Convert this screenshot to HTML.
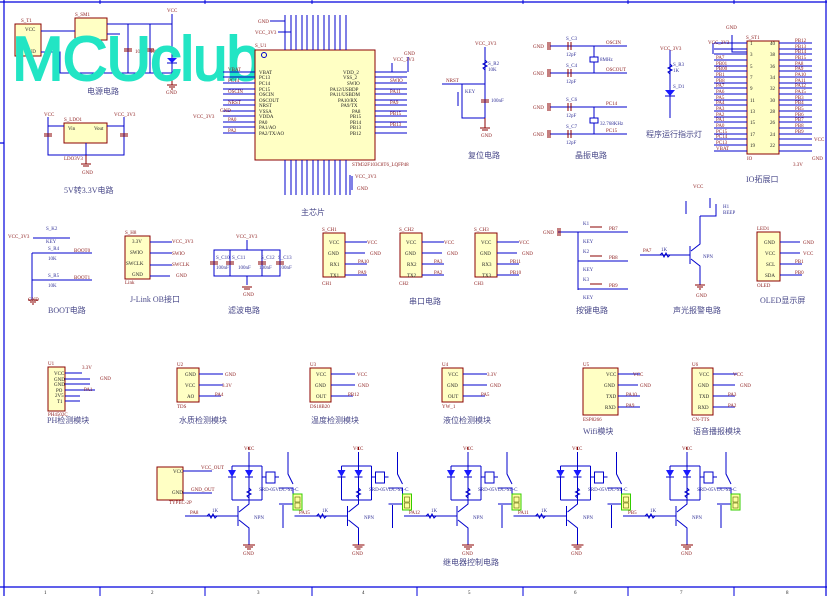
<!DOCTYPE html>
<html><head><meta charset="utf-8"><style>
html,body{margin:0;padding:0;background:#fff;width:827px;height:596px;overflow:hidden}
svg{display:block}
text{font-family:"Liberation Serif","Noto Serif CJK SC",serif}
.s{font-size:5px;fill:#222}
.r{font-size:5px;fill:#8b1a1a}
.b{font-size:5px;fill:#333399}
.t{font-size:8px;fill:#4a4a8a;font-family:"Liberation Serif","Noto Sans CJK SC",sans-serif}
.w{stroke:#0000cc;stroke-width:1;fill:none}
.k{stroke:#8b0000;stroke-width:1;fill:none}
.bx{fill:#ffffc4;stroke:#8b0000;stroke-width:1}
</style></head><body>
<svg width="827" height="596" viewBox="0 0 827 596" xmlns="http://www.w3.org/2000/svg">
<defs>
<g id="relay">
 <path class="w" d="M0 452V466M-17 466H13M-17 466V500M0 466V500M13 466V500M-17 500H13"/>
 <path d="M-21 470h8l-4 7z M-4 470h8l-4 7z" fill="#1a1aff"/>
 <path class="w" d="M-21 477h8M-4 477h8"/>
 <rect x="17" y="472" width="9" height="11" fill="#fff" stroke="#0000cc"/>
 <path class="w" d="M13 477h4M26 477h4M39 452V474L44 484M30 488H44V494M30 504H44"/>
 <path class="w" d="M0 488l2 2-4 2 4 2-4 2 2 2"/>
 <path class="w" d="M-64 516H-11M-11 506V526M-10 512L0 504V500M-10 520L0 528V545"/>
 <path class="w" d="M-42 516l2-2 2 4 2-4 2 4 2-2"/>
 <path class="w" d="M34 505V528"/>
 <path class="k" d="M0 450v-3M-6 545h12M-4 547h8M-2 549h4"/>
 <rect x="44" y="494" width="9" height="16" fill="#ffffa0" stroke="#33cc00"/>
 <rect x="46" y="497" width="5" height="5" fill="none" stroke="#556600" stroke-width=".6"/>
 <rect x="46" y="503" width="5" height="5" fill="none" stroke="#556600" stroke-width=".6"/>
</g>
</defs>

<!-- frame -->
<path d="M4 0V596M826 0V596M0 2H827M0 587H827M4 143h-4" stroke="#0000dd" stroke-width="1.2" fill="none"/>
<path d="M100 0V4M205 0V4M312 0V4M523 0V4M628 0V4M734 0V4M100 587V596M205 587V596M312 587V596M417 587V596M523 587V596M628 587V596M734 587V596" stroke="#0000dd"/>
<g class="s"><text x="44" y="594">1</text><text x="151" y="594">2</text><text x="257" y="594">3</text><text x="362" y="594">4</text><text x="468" y="594">5</text><text x="574" y="594">6</text><text x="680" y="594">7</text><text x="786" y="594">8</text></g>

<!-- power -->
<rect class="bx" x="15" y="24" width="26" height="32"/>
<text class="s" x="25" y="31">VCC</text><text class="s" x="25" y="53">GND</text>
<text class="r" x="21" y="22">S_T1</text>
<rect class="bx" x="75" y="18" width="32" height="22"/>
<text class="r" x="75" y="16">S_SM1</text>
<path class="w" d="M41 31H75M107 24H172M107 34h13M41 52H60V73H172M128 24V73M150 24V73M172 24V73M172 14V45"/>
<path class="k" d="M124 49h8M124 51h8M146 49h8M146 51h8"/>
<path d="M167 58h10l-5 5z" fill="#1a1aff"/><path class="w" d="M167 63h10"/>
<path class="k" d="M172 73v12M167 85h10M169 87h6M171 89h2"/>
<text class="r" x="167" y="12">VCC</text><text class="r" x="166" y="94">GND</text>
<text class="r" x="135" y="53">10uF</text><text class="r" x="150" y="53">100nF</text>
<text class="t" x="87" y="94">电源电路</text>
<!-- LDO -->
<rect class="bx" x="64" y="123" width="43" height="20"/>
<text class="s" x="68" y="130">Vin</text><text class="s" x="94" y="130">Vout</text>
<text class="r" x="64" y="121">S_LDO1</text><text class="r" x="64" y="160">LDO3V3</text>
<path class="w" d="M48 117V155H124V117M48 126H64M107 126H124M86 143V155"/>
<path class="k" d="M44 134h8M44 136h8M120 134h8M120 136h8M86 155v9M81 164h10M83 166h6"/>
<text class="r" x="44" y="116">VCC</text><text class="r" x="114" y="116">VCC_3V3</text>
<text class="r" x="82" y="174">GND</text>
<text class="t" x="64" y="193">5V转3.3V电路</text>

<!-- watermark -->
<text x="12" y="80" style="font-family:'Liberation Sans',sans-serif;font-size:62px;fill:#22e5c4;stroke:#22e5c4;stroke-width:2;letter-spacing:-1px">MCUclub</text>

<!-- main chip -->
<rect class="bx" x="255" y="50" width="120" height="110"/>
<circle cx="264" cy="55" r="2.5" fill="none" stroke="#0000cc"/>
<text class="r" x="255" y="47">S_U1</text>
<text class="r" x="352" y="166">STM32F103C8T6_LQFP48</text>
<g class="w">
<path d="M223 72h32M223 77h32M223 83h32M223 89h32M223 94h32M223 100h32M223 105h32M223 111h32M223 116h32M223 122h32M223 127h32M223 133h32"/>
<path d="M375 72h32M375 77h32M375 83h32M375 89h32M375 94h32M375 100h32M375 105h32M375 111h32M375 116h32M375 122h32M375 127h32M375 133h32"/>
<path d="M285 15v35M291 15v35M296 15v35M302 15v35M307 15v35M313 15v35M318 15v35M324 15v35M329 15v35M335 15v35M340 15v35M346 15v35"/>
<path d="M285 160v35M291 160v35M296 160v35M302 160v35M307 160v35M313 160v35M318 160v35M324 160v35M329 160v35M335 160v35M340 160v35M346 160v35"/>
<path d="M270 21H285M278 32H291M408 57V72M392 63V72M350 175V195M352 190V176"/>
</g>
<g class="s">
<text x="259" y="74">VBAT</text><text x="259" y="79">PC13</text><text x="259" y="85">PC14</text><text x="259" y="91">PC15</text><text x="259" y="96">OSCIN</text><text x="259" y="102">OSCOUT</text><text x="259" y="107">NRST</text><text x="259" y="113">VSSA</text><text x="259" y="118">VDDA</text><text x="259" y="124">PA0</text><text x="259" y="129">PA1/AO</text><text x="259" y="135">PA2/TX/AO</text>
<text x="343" y="74">VDD_2</text><text x="343" y="79">VSS_2</text><text x="347" y="85">SWIO</text><text x="330" y="91">PA12/USBDP</text><text x="330" y="96">PA11/USBDM</text><text x="338" y="102">PA10/RX</text><text x="341" y="107">PA9/TX</text><text x="352" y="113">PA8</text><text x="350" y="118">PB15</text><text x="350" y="124">PB14</text><text x="350" y="129">PB13</text><text x="350" y="135">PB12</text>
</g>
<g class="r">
<text x="228" y="71">VBAT</text><text x="228" y="82">PC14</text><text x="228" y="93">OSCIN</text><text x="228" y="104">NRST</text><text x="228" y="121">PA0</text><text x="228" y="132">PA2</text>
<text x="390" y="82">SWIO</text><text x="390" y="93">PA11</text><text x="390" y="104">PA9</text><text x="390" y="115">PB15</text><text x="390" y="126">PB13</text>
<text x="258" y="23">GND</text><text x="255" y="34">VCC_3V3</text><text x="193" y="118">VCC_3V3</text><text x="220" y="112">GND</text>
<text x="393" y="61">VCC_3V3</text><text x="404" y="55">GND</text>
<text x="355" y="178">VCC_3V3</text><text x="357" y="190">GND</text>
</g>
<text class="t" x="301" y="215">主芯片</text>

<!-- reset -->
<path class="w" d="M442 84H485M485 47V118M462 84V118H485M458 92v14"/>
<path class="k" d="M481 100h8M481 102h8M485 118v10M480 128h10M482 130h6"/>
<path class="w" d="M485 60l2 2-4 2 4 2-4 2 2 2"/>
<text class="r" x="475" y="45">VCC_3V3</text><text class="r" x="446" y="82">NRST</text><text class="r" x="481" y="137">GND</text>
<text class="b" x="488" y="65">S_R2</text><text class="b" x="488" y="71">10K</text><text class="b" x="465" y="93">KEY</text><text class="b" x="491" y="102">100nF</text>
<text class="t" x="468" y="158">复位电路</text>
<!-- crystal -->
<g class="w"><path d="M550 46H627M550 73H627M550 107H627M550 134H627M594 46V73M594 107V134"/></g>
<path class="k" d="M550 42v8M548 42v8M550 69v8M548 69v8M550 103v8M548 103v8M550 130v8M548 130v8M568 42v8M571 42v8M568 69v8M571 69v8M568 103v8M571 103v8M568 130v8M571 130v8"/>
<rect x="590" y="57" width="8" height="5" fill="#fff" stroke="#0000cc"/><rect x="590" y="118" width="8" height="5" fill="#fff" stroke="#0000cc"/>
<g class="r"><text x="533" y="48">GND</text><text x="533" y="75">GND</text><text x="533" y="109">GND</text><text x="533" y="136">GND</text><text x="606" y="44">OSCIN</text><text x="606" y="71">OSCOUT</text><text x="606" y="105">PC14</text><text x="606" y="132">PC15</text></g>
<g class="b"><text x="566" y="40">S_C3</text><text x="566" y="67">S_C4</text><text x="566" y="101">S_C6</text><text x="566" y="128">S_C7</text><text x="566" y="56">12pF</text><text x="566" y="83">12pF</text><text x="566" y="117">12pF</text><text x="566" y="144">12pF</text><text x="600" y="61">8MHz</text><text x="600" y="125">32.768KHz</text></g>
<text class="t" x="575" y="158">晶振电路</text>
<!-- LED -->
<path class="w" d="M670 50V118M670 64l2 2-4 2 4 2-4 2 2 2"/>
<path d="M665 90h10l-5 6z" fill="#1a1aff"/><path class="w" d="M665 96h10"/>
<text class="r" x="660" y="50">VCC_3V3</text><text class="b" x="673" y="66">S_R3</text><text class="b" x="673" y="72">1K</text><text class="b" x="673" y="88">S_D1</text>
<text class="t" x="646" y="137">程序运行指示灯</text>
<!-- IO header -->
<rect class="bx" x="747" y="41" width="32" height="113"/>
<text class="r" x="746" y="39">S_ST1</text><text class="r" x="747" y="160">IO</text>
<g class="w">
<path d="M714 43h33M714 49h33M714 54h33M714 60h33M714 66h33M714 71h33M714 77h33M714 83h33M714 88h33M714 94h33M714 100h33M714 105h33M714 111h33M714 117h33M714 122h33M714 128h33M714 134h33M714 139h33M714 145h33M714 151h33"/>
<path d="M779 43h33M779 49h33M779 54h33M779 60h33M779 66h33M779 71h33M779 77h33M779 83h33M779 88h33M779 94h33M779 100h33M779 105h33M779 111h33M779 117h33M779 122h33M779 128h33M779 134h33M779 139h33M779 145h33M779 151h33"/>
<path d="M732 35V52H747M713 43V54M812 139H805M812 145H812"/>
</g>
<g class="s"><text x="750" y="45">1</text><text x="750" y="56">3</text><text x="750" y="68">5</text><text x="750" y="79">7</text><text x="750" y="90">9</text><text x="750" y="102">11</text><text x="750" y="113">13</text><text x="750" y="124">15</text><text x="750" y="136">17</text><text x="750" y="147">19</text><text x="770" y="45">40</text><text x="770" y="56">38</text><text x="770" y="68">36</text><text x="770" y="79">34</text><text x="770" y="90">32</text><text x="770" y="102">30</text><text x="770" y="113">28</text><text x="770" y="124">26</text><text x="770" y="136">24</text><text x="770" y="147">22</text></g>
<g class="r"><text x="716" y="59">PA7</text><text x="716" y="65">PB01</text><text x="716" y="70">PB00</text><text x="716" y="76">PB1</text><text x="716" y="82">PB8</text><text x="716" y="87">PA7</text><text x="716" y="93">PA6</text><text x="716" y="99">PA5</text><text x="716" y="104">PA4</text><text x="716" y="110">PA3</text><text x="716" y="116">PA2</text><text x="716" y="121">PA1</text><text x="716" y="127">PA0</text><text x="716" y="133">PC15</text><text x="716" y="138">PC14</text><text x="716" y="144">PC13</text><text x="716" y="150">VBAT</text>
<text x="795" y="42">PB12</text><text x="795" y="48">PB13</text><text x="795" y="53">PB14</text><text x="795" y="59">PB15</text><text x="795" y="65">PA8</text><text x="795" y="70">PA9</text><text x="795" y="76">PA10</text><text x="795" y="82">PA11</text><text x="795" y="87">PA12</text><text x="795" y="93">PA15</text><text x="795" y="99">PB3</text><text x="795" y="104">PB4</text><text x="795" y="110">PB5</text><text x="795" y="116">PB6</text><text x="795" y="121">PB7</text><text x="795" y="127">PB8</text><text x="795" y="133">PB9</text><text x="814" y="141">VCC</text><text x="812" y="160">GND</text><text x="793" y="166">3.3V</text><text x="708" y="44">VCC_3V3</text><text x="726" y="29">GND</text></g>
<text class="t" x="746" y="182">IO拓展口</text>

<!-- BOOT -->
<path class="w" d="M33 238H70M32 253H92M32 280H92M32 253V300"/>
<path class="k" d="M28 300h10M30 302h6M32 304h2"/>
<text class="r" x="8" y="238">VCC_3V3</text><text class="r" x="28" y="301">GND</text>
<text class="b" x="46" y="230">S_K2</text><text class="b" x="46" y="243">KEY</text><text class="b" x="48" y="250">S_R4</text><text class="b" x="48" y="260">10K</text><text class="b" x="48" y="277">S_R5</text><text class="b" x="48" y="287">10K</text>
<text class="r" x="74" y="252">BOOT0</text><text class="r" x="74" y="279">BOOT1</text>
<text class="t" x="48" y="313">BOOT电路</text>
<!-- JLink -->
<rect class="bx" x="125" y="236" width="25" height="43"/>
<g class="s"><text x="132" y="243">3.3V</text><text x="130" y="254">SWIO</text><text x="126" y="265">SWCLK</text><text x="132" y="276">GND</text></g>
<path class="w" d="M150 242H172M150 253H172M150 265H172M150 276H170"/>
<g class="r"><text x="125" y="234">S_H8</text><text x="125" y="284">Link</text><text x="172" y="243">VCC_3V3</text><text x="172" y="255">SWIO</text><text x="172" y="266">SWCLK</text><text x="176" y="277">GND</text></g>
<text class="t" x="130" y="302">J-Link OB接口</text>
<!-- filter -->
<path class="w" d="M247 240V250H214V276H280V250H247M230 250V276M262 250V276M247 276V285"/>
<path class="k" d="M210 262h8M210 264h8M226 262h8M226 264h8M258 262h8M258 264h8M276 262h8M276 264h8M242 287h10M244 289h6"/>
<text class="r" x="236" y="238">VCC_3V3</text><text class="r" x="243" y="296">GND</text>
<g class="b"><text x="216" y="259">S_C10</text><text x="232" y="259">S_C11</text><text x="261" y="259">S_C12</text><text x="278" y="259">S_C13</text><text x="216" y="269">100nF</text><text x="238" y="269">100nF</text><text x="259" y="269">100nF</text><text x="279" y="269">100nF</text></g>
<text class="t" x="228" y="313">滤波电路</text>
<!-- UART x3 -->
<g id="u1">
<rect class="bx" x="323" y="233" width="22" height="44"/>
</g>
<rect class="bx" x="400" y="233" width="22" height="44"/>
<rect class="bx" x="475" y="233" width="22" height="44"/>
<path class="w" d="M345 242h22M345 253h20M345 264h22M345 275h22M422 242h22M422 253h20M422 264h22M422 275h22M497 242h22M497 253h20M497 264h22M497 275h22"/>
<g class="s"><text x="329" y="244">VCC</text><text x="328" y="255">GND</text><text x="330" y="266">RX1</text><text x="330" y="277">TX1</text><text x="406" y="244">VCC</text><text x="405" y="255">GND</text><text x="407" y="266">RX2</text><text x="407" y="277">TX2</text><text x="481" y="244">VCC</text><text x="480" y="255">GND</text><text x="482" y="266">RX3</text><text x="482" y="277">TX3</text></g>
<g class="r"><text x="322" y="231">S_CH1</text><text x="399" y="231">S_CH2</text><text x="474" y="231">S_CH3</text><text x="367" y="244">VCC</text><text x="444" y="244">VCC</text><text x="519" y="244">VCC</text><text x="370" y="255">GND</text><text x="447" y="255">GND</text><text x="522" y="255">GND</text><text x="358" y="263">PA10</text><text x="358" y="274">PA9</text><text x="434" y="263">PA3</text><text x="434" y="274">PA2</text><text x="510" y="263">PB11</text><text x="510" y="274">PB10</text><text x="322" y="285">CH1</text><text x="399" y="285">CH2</text><text x="474" y="285">CH3</text></g>
<text class="t" x="409" y="304">串口电路</text>
<!-- keys -->
<path class="w" d="M558 232H628M578 232V290M578 261H628M578 289H628"/>
<path class="k" d="M558 228v8M560 228v8M590 227h12M590 256h12M590 284h12"/>
<g class="r"><text x="543" y="234">GND</text><text x="609" y="230">PB7</text><text x="609" y="259">PB8</text><text x="609" y="287">PB9</text></g>
<g class="b"><text x="583" y="225">K1</text><text x="583" y="253">K2</text><text x="583" y="281">K3</text><text x="583" y="243">KEY</text><text x="583" y="271">KEY</text><text x="583" y="299">KEY</text></g>
<text class="t" x="576" y="313">按键电路</text>
<!-- buzzer -->
<path class="w" d="M640 255H690M690 246V264M691 251L700 244V216M691 259L700 266V285M700 216H716V204M686 201V214M710 198v10"/>
<path class="w" d="M660 255l2-2 2 4 2-4 2 4 2-2"/>
<path class="k" d="M695 285h10M697 287h6M699 289h2"/>
<text class="r" x="693" y="188">VCC</text><text class="r" x="696" y="297">GND</text><text class="r" x="643" y="252">PA7</text><text class="b" x="661" y="251">1K</text><text class="b" x="703" y="258">NPN</text><text class="b" x="723" y="208">H1</text><text class="b" x="723" y="214">BEEP</text>
<text class="t" x="673" y="313">声光报警电路</text>
<!-- OLED -->
<rect class="bx" x="757" y="232" width="23" height="49"/>
<path class="w" d="M780 242h20M780 253h20M780 264h22M780 275h22"/>
<g class="s"><text x="764" y="244">GND</text><text x="765" y="255">VCC</text><text x="766" y="266">SCL</text><text x="765" y="277">SDA</text></g>
<g class="r"><text x="757" y="230">LED1</text><text x="757" y="287">OLED</text><text x="803" y="244">GND</text><text x="803" y="255">VCC</text><text x="795" y="263">PB1</text><text x="795" y="274">PB0</text></g>
<text class="t" x="760" y="303">OLED显示屏</text>

<!-- sensor modules -->
<rect class="bx" x="48" y="367" width="17" height="44"/>
<g class="s"><text x="54" y="375">VCC</text><text x="54" y="381">GND</text><text x="54" y="386">GND</text><text x="56" y="392">PO</text><text x="55" y="397">2V5</text><text x="57" y="403">T1</text></g>
<path class="w" d="M65 373h17M65 379h25M65 384h25M65 390h30M65 396h15M65 401h15"/>
<g class="r"><text x="48" y="365">U1</text><text x="82" y="369">3.3V</text><text x="100" y="380">GND</text><text x="84" y="391">PA1</text><text x="48" y="416">PH4502C</text></g>
<text class="t" x="47" y="423">PH检测模块</text>

<rect class="bx" x="177" y="368" width="22" height="34"/>
<path class="w" d="M199 374h24M199 385h24M199 396h22"/>
<g class="s"><text x="185" y="376">GND</text><text x="185" y="387">VCC</text><text x="187" y="398">AO</text></g>
<g class="r"><text x="177" y="366">U2</text><text x="177" y="408">TDS</text><text x="225" y="376">GND</text><text x="222" y="387">3.3V</text><text x="215" y="396">PA4</text></g>
<text class="t" x="179" y="423">水质检测模块</text>

<rect class="bx" x="310" y="368" width="21" height="34"/>
<path class="w" d="M331 374h24M331 385h24M331 396h22"/>
<g class="s"><text x="316" y="376">VCC</text><text x="315" y="387">GND</text><text x="316" y="398">OUT</text></g>
<g class="r"><text x="310" y="366">U3</text><text x="310" y="408">DS18B20</text><text x="357" y="376">VCC</text><text x="358" y="387">GND</text><text x="348" y="396">PB12</text></g>
<text class="t" x="311" y="423">温度检测模块</text>

<rect class="bx" x="442" y="368" width="21" height="34"/>
<path class="w" d="M463 374h24M463 385h24M463 396h22"/>
<g class="s"><text x="448" y="376">VCC</text><text x="447" y="387">GND</text><text x="448" y="398">OUT</text></g>
<g class="r"><text x="442" y="366">U4</text><text x="442" y="408">YW_1</text><text x="487" y="376">3.3V</text><text x="490" y="387">GND</text><text x="481" y="396">PA5</text></g>
<text class="t" x="443" y="423">液位检测模块</text>

<rect class="bx" x="583" y="368" width="35" height="47"/>
<path class="w" d="M618 374h22M618 385h20M618 396h22M618 407h22"/>
<g class="s"><text x="606" y="376">VCC</text><text x="604" y="387">GND</text><text x="606" y="398">TXD</text><text x="605" y="409">RXD</text></g>
<g class="r"><text x="583" y="366">U5</text><text x="583" y="421">ESP8266</text><text x="633" y="376">VCC</text><text x="640" y="387">GND</text><text x="626" y="396">PA10</text><text x="626" y="407">PA9</text></g>
<text class="t" x="583" y="434">Wifi模块</text>

<rect class="bx" x="692" y="368" width="21" height="47"/>
<path class="w" d="M713 374h24M713 385h22M713 396h22M713 407h22"/>
<g class="s"><text x="699" y="376">VCC</text><text x="698" y="387">GND</text><text x="699" y="398">TXD</text><text x="698" y="409">RXD</text></g>
<g class="r"><text x="692" y="366">U6</text><text x="692" y="421">CN-TTS</text><text x="733" y="376">VCC</text><text x="740" y="387">GND</text><text x="728" y="396">PA3</text><text x="728" y="407">PA2</text></g>
<text class="t" x="693" y="434">语音播报模块</text>

<!-- relay section -->
<rect class="bx" x="157" y="467" width="26" height="33"/>
<g class="s"><text x="173" y="473">VCC</text><text x="172" y="494">GND</text></g>
<path class="w" d="M183 471H212M183 493H212"/>
<g class="r"><text x="201" y="469">VCC_OUT</text><text x="191" y="491">GND_OUT</text><text x="169" y="504">TYPEC-2P</text></g>
<use href="#relay" x="249"/>
<use href="#relay" x="358.5"/>
<use href="#relay" x="468"/>
<use href="#relay" x="577.5"/>
<use href="#relay" x="687"/>
<g class="r">
<text x="244" y="450">VCC</text><text x="353" y="450">VCC</text><text x="463" y="450">VCC</text><text x="572" y="450">VCC</text><text x="682" y="450">VCC</text>
<text x="243" y="555">GND</text><text x="352" y="555">GND</text><text x="462" y="555">GND</text><text x="571" y="555">GND</text><text x="681" y="555">GND</text>
<text x="190" y="514">PA8</text><text x="299" y="514">PA15</text><text x="409" y="514">PA12</text><text x="518" y="514">PA11</text><text x="628" y="514">PB5</text>
</g>
<g class="b">
<text x="212" y="512">1K</text><text x="322" y="512">1K</text><text x="431" y="512">1K</text><text x="541" y="512">1K</text><text x="650" y="512">1K</text>
<text x="254" y="519">NPN</text><text x="364" y="519">NPN</text><text x="473" y="519">NPN</text><text x="583" y="519">NPN</text><text x="692" y="519">NPN</text>
<text x="259" y="491">SRD-05VDC-SL-C</text><text x="369" y="491">SRD-05VDC-SL-C</text><text x="478" y="491">SRD-05VDC-SL-C</text><text x="588" y="491">SRD-05VDC-SL-C</text><text x="697" y="491">SRD-05VDC-SL-C</text>
</g>
<text class="t" x="443" y="565">继电器控制电路</text>
</svg>
</body></html>
